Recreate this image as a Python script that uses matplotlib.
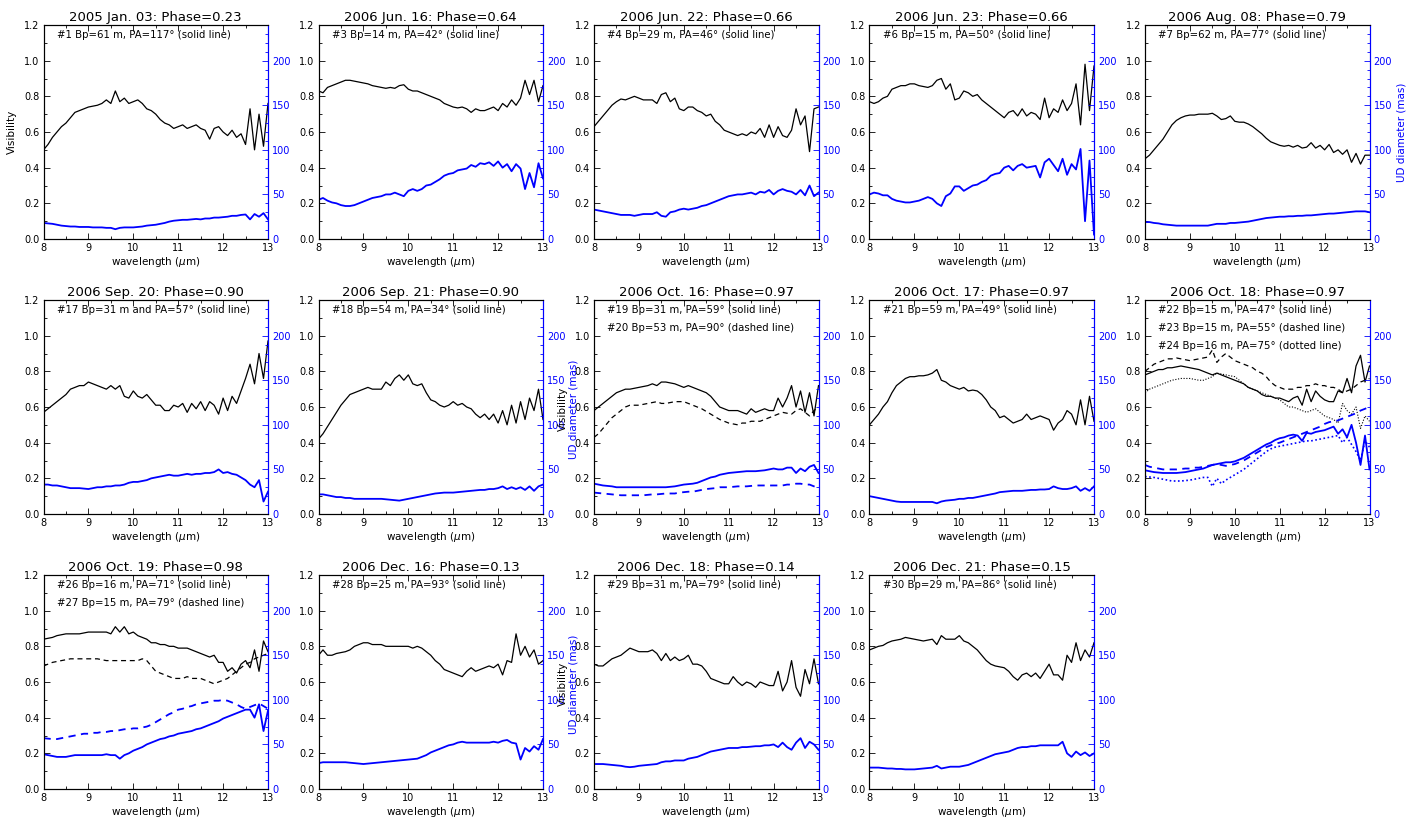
import matplotlib.pyplot as plt
import numpy as np
from matplotlib.ticker import MultipleLocator

plt.rcParams['font.family'] = ['DejaVu Sans']

# wavelength sampling (micron), 8.0 ... 13.0 in 0.1 steps
wl = np.round(np.arange(8.0, 13.05, 0.1), 1)

titles = [
    "2005 Jan. 03: Phase=0.23", "2006 Jun. 16: Phase=0.64", "2006 Jun. 22: Phase=0.66",
    "2006 Jun. 23: Phase=0.66", "2006 Aug. 08: Phase=0.79", "2006 Sep. 20: Phase=0.90",
    "2006 Sep. 21: Phase=0.90", "2006 Oct. 16: Phase=0.97", "2006 Oct. 17: Phase=0.97",
    "2006 Oct. 18: Phase=0.97", "2006 Oct. 19: Phase=0.98", "2006 Dec. 16: Phase=0.13",
    "2006 Dec. 18: Phase=0.14", "2006 Dec. 21: Phase=0.15",
]

notes = [
    ["#1 Bp=61 m, PA=117° (solid line)"],
    ["#3 Bp=14 m, PA=42° (solid line)"],
    ["#4 Bp=29 m, PA=46° (solid line)"],
    ["#6 Bp=15 m, PA=50° (solid line)"],
    ["#7 Bp=62 m, PA=77° (solid line)"],
    ["#17 Bp=31 m and PA=57° (solid line)"],
    ["#18 Bp=54 m, PA=34° (solid line)"],
    ["#19 Bp=31 m, PA=59° (solid line)", "#20 Bp=53 m, PA=90° (dashed line)"],
    ["#21 Bp=59 m, PA=49° (solid line)"],
    ["#22 Bp=15 m, PA=47° (solid line)", "#23 Bp=15 m, PA=55° (dashed line)",
     "#24 Bp=16 m, PA=75° (dotted line)"],
    ["#26 Bp=16 m, PA=71° (solid line)", "#27 Bp=15 m, PA=79° (dashed line)"],
    ["#28 Bp=25 m, PA=93° (solid line)"],
    ["#29 Bp=31 m, PA=79° (solid line)"],
    ["#30 Bp=29 m, PA=86° (solid line)"],
]

# ---- visibility and UD diameter (mas) ----
vis_01 = [0.50,0.53,0.57,0.60,0.63,0.65,0.68,0.71,0.72,0.73,
          0.74,0.745,0.75,0.76,0.78,0.76,0.83,0.77,0.79,0.76,
          0.77,0.78,0.76,0.73,0.72,0.70,0.67,0.65,0.64,0.62,
          0.63,0.64,0.62,0.63,0.64,0.62,0.61,0.56,0.62,0.63,
          0.60,0.58,0.61,0.57,0.59,0.53,0.73,0.50,0.70,0.52,0.76]
ud_01 = [18,17.5,17,16,15,14.5,14,14,13.5,13.5,
         13.5,13,13,13,12.5,12.5,11,12.5,13,13,
         13,13.5,14,15,15.5,16,17,18,19.5,20.5,
         21,21.5,21.5,22,22.5,22,23,23,24,24,
         24.5,25,26,26,27,27.5,22,28,25,29,22]

vis_02 = [0.83,0.82,0.85,0.86,0.87,0.88,0.89,0.89,0.885,0.88,
          0.875,0.87,0.86,0.855,0.85,0.845,0.85,0.845,0.86,0.865,
          0.84,0.83,0.83,0.82,0.81,0.80,0.79,0.78,0.76,0.75,
          0.74,0.735,0.74,0.73,0.71,0.73,0.72,0.72,0.73,0.74,
          0.72,0.76,0.74,0.78,0.75,0.79,0.89,0.81,0.89,0.77,0.86]
ud_02 = [44,46,43,41,40,38,37,37,38,40,
         42,44,46,47,48,50,50,52,50,48,
         54,56,54,56,60,61,64,67,71,73,
         74,77,78,79,83,81,85,84,86,82,
         87,80,84,76,84,79,56,74,58,85,68]

vis_03 = [0.63,0.66,0.69,0.72,0.75,0.77,0.785,0.78,0.79,0.80,
          0.79,0.78,0.78,0.78,0.76,0.81,0.82,0.77,0.79,0.73,
          0.72,0.74,0.74,0.72,0.71,0.69,0.70,0.66,0.64,0.61,
          0.60,0.59,0.58,0.59,0.58,0.60,0.59,0.62,0.57,0.64,
          0.57,0.63,0.58,0.57,0.61,0.73,0.64,0.69,0.49,0.73,0.74]
ud_03 = [33,32,31,30,29,28,27,27,27,26,
         27,28,28,28,30,26,25,30,31,33,
         34,33,34,35,37,38,40,42,44,46,
         48,49,50,50,51,52,50,53,52,55,
         50,54,56,54,53,50,55,49,60,48,52]

vis_04 = [0.77,0.76,0.77,0.79,0.80,0.84,0.85,0.86,0.86,0.87,
          0.87,0.86,0.855,0.85,0.86,0.89,0.90,0.84,0.87,0.78,
          0.79,0.83,0.82,0.80,0.81,0.78,0.76,0.74,0.72,0.70,
          0.68,0.71,0.72,0.69,0.73,0.69,0.71,0.70,0.67,0.79,
          0.68,0.73,0.71,0.78,0.72,0.76,0.87,0.64,0.98,0.72,0.97]
ud_04 = [50,52,51,49,49,45,43,42,41,41,
         42,43,45,47,45,40,37,48,51,59,
         59,54,57,60,61,64,66,71,73,74,
         80,82,77,82,84,80,81,82,69,86,
         90,83,76,90,72,84,78,101,20,88,5]

vis_05 = [0.45,0.47,0.50,0.53,0.56,0.60,0.64,0.665,0.68,0.69,
          0.695,0.695,0.70,0.70,0.70,0.705,0.69,0.67,0.675,0.69,
          0.66,0.655,0.655,0.645,0.63,0.61,0.59,0.565,0.545,0.535,
          0.525,0.52,0.525,0.515,0.525,0.51,0.515,0.54,0.51,0.525,
          0.50,0.53,0.485,0.50,0.475,0.50,0.43,0.48,0.42,0.47,0.47]
ud_05 = [19,19,18,17.5,16.5,16,15.5,15,15,15,
         15,15,15,15,15,16,17,17,17,18,
         18,18.5,19,19.5,20.5,21.5,22.5,23.5,24,24.5,
         25,25,25.5,25.5,26,26,26.5,26.5,27,27.5,
         28,28.5,28.5,29,29.5,30,30.5,31,31,31,30]

vis_06 = [0.57,0.59,0.61,0.63,0.65,0.67,0.70,0.71,0.72,0.72,
          0.74,0.73,0.72,0.71,0.70,0.72,0.70,0.72,0.66,0.65,
          0.69,0.66,0.65,0.67,0.64,0.61,0.61,0.58,0.58,0.61,
          0.60,0.62,0.57,0.62,0.59,0.63,0.58,0.63,0.61,0.56,
          0.65,0.58,0.66,0.62,0.69,0.76,0.84,0.73,0.90,0.76,0.97]
ud_06 = [33,33,32,32,31,30,29,29,29,28.5,
         28,29,30,30,31,31,32,32,33,35,
         36,36,37,38,40,41,42,43,44,43,
         43,44,45,44,45,45,46,46,47,50,
         46,47,45,44,41,38,33,30,38,14,25]

vis_07 = [0.42,0.45,0.49,0.53,0.57,0.61,0.64,0.67,0.68,0.69,
          0.70,0.71,0.70,0.70,0.70,0.74,0.72,0.76,0.78,0.75,
          0.78,0.73,0.72,0.73,0.68,0.64,0.63,0.61,0.60,0.61,
          0.63,0.61,0.62,0.60,0.59,0.56,0.54,0.56,0.53,0.56,
          0.51,0.58,0.50,0.61,0.51,0.63,0.53,0.65,0.58,0.70,0.53]
ud_07 = [22,22,21,20,19,19,18,18,17,17,
         17,17,17,17,17,16.5,16,15.5,15,16,
         17,18,19,20,21,22,23,23.5,24,24,
         24,24.5,25,25.5,26,26.5,27,27,28,28,
         29,31,28,30,28,30,27,31,26,31,33]

vis_08a = [0.58,0.60,0.62,0.64,0.66,0.68,0.69,0.70,0.70,0.705,
           0.71,0.715,0.72,0.73,0.72,0.74,0.74,0.735,0.73,0.72,
           0.71,0.72,0.71,0.70,0.69,0.68,0.66,0.63,0.60,0.59,
           0.58,0.58,0.58,0.57,0.56,0.59,0.57,0.58,0.59,0.58,
           0.58,0.65,0.60,0.65,0.72,0.60,0.69,0.57,0.68,0.55,0.72]
vis_08b = [0.43,0.45,0.48,0.51,0.54,0.56,0.58,0.60,0.61,0.61,
           0.61,0.615,0.62,0.625,0.63,0.62,0.62,0.625,0.63,0.63,
           0.63,0.62,0.61,0.60,0.59,0.575,0.56,0.545,0.53,0.52,
           0.51,0.505,0.50,0.51,0.51,0.52,0.52,0.52,0.53,0.54,
           0.55,0.56,0.57,0.565,0.56,0.58,0.59,0.57,0.55,0.58,0.60]
ud_08a = [34,33,32,31.5,31,30,30,30,30,30,
          30,30,30,30,30,30,30,30.5,31,32,
          33,33.5,34,35,37,39,41,42,44,45,
          46,46.5,47,47.5,48,48,48,48.5,49,50,
          51,50,50,52,52,46,51,48,53,55,46]
ud_08b = [24,23.5,23,22.5,22,21.5,21,21,21,21,
          21,21,21.5,22,22,22.5,23,23,23,24,
          24.5,25,25,26,27,28,28.5,29,30,30,
          30,30.5,31,31,31,31.5,32,32,32,32,
          32,32,32,33,33,34,34,33,33,31,29]

vis_09 = [0.50,0.53,0.56,0.60,0.63,0.68,0.72,0.74,0.76,0.77,
          0.77,0.775,0.775,0.78,0.79,0.81,0.75,0.74,0.72,0.71,
          0.70,0.71,0.69,0.695,0.69,0.67,0.64,0.60,0.58,0.54,
          0.55,0.53,0.51,0.52,0.53,0.56,0.53,0.54,0.55,0.54,
          0.53,0.47,0.51,0.53,0.58,0.56,0.50,0.64,0.50,0.66,0.52]
ud_09 = [20,19,18,17,16,15,14,13.5,13.5,13.5,
         13.5,13.5,13.5,13.5,13.5,12,14,15,15.5,16,
         17,17,18,18,19,20,21,22,23,24.5,
         25,25.5,26,26,26,26.5,27,27,27.5,27.5,
         28,31,29,28,28,29,31,26,29,26,31]

vis_10a = [0.78,0.79,0.80,0.81,0.81,0.82,0.82,0.825,0.83,0.825,
           0.82,0.815,0.81,0.80,0.79,0.78,0.79,0.78,0.77,0.76,
           0.75,0.74,0.73,0.71,0.70,0.69,0.67,0.66,0.66,0.65,
           0.65,0.64,0.63,0.65,0.66,0.61,0.70,0.63,0.69,0.66,
           0.64,0.63,0.63,0.69,0.68,0.76,0.68,0.83,0.89,0.74,0.83]
vis_10b = [0.80,0.82,0.84,0.85,0.86,0.87,0.87,0.875,0.87,0.865,
           0.86,0.865,0.87,0.875,0.88,0.92,0.85,0.88,0.90,0.88,
           0.86,0.85,0.84,0.83,0.82,0.80,0.79,0.77,0.74,0.72,
           0.71,0.70,0.70,0.70,0.71,0.71,0.72,0.72,0.73,0.72,
           0.72,0.71,0.71,0.70,0.68,0.69,0.70,0.72,0.74,0.75,0.76]
vis_10c = [0.68,0.70,0.71,0.72,0.73,0.74,0.75,0.755,0.76,0.76,
           0.76,0.755,0.75,0.75,0.76,0.77,0.79,0.785,0.78,0.775,
           0.77,0.75,0.73,0.71,0.70,0.69,0.68,0.67,0.66,0.65,
           0.64,0.62,0.60,0.60,0.59,0.58,0.57,0.58,0.59,0.57,
           0.55,0.54,0.53,0.51,0.62,0.58,0.56,0.60,0.48,0.55,0.52]
ud_10a = [49,48,47,46.5,46,46,46,46,46.5,47,
          48,49,50,51,53,55,56,57,58,58,
          59,61,63,66,69,72,75,78,80,83,
          85,86,88,89,88,82,91,90,92,93,
          94,96,98,90,95,86,100,80,55,88,50]
ud_10b = [55,53,52,51,50,50,50,50,50.5,51,
          51,52,52,53,54,55,56,55,54,55,
          56,58,60,63,66,69,72,75,77,79,
          80,82,84,86,88,90,92,94,96,98,
          101,103,104,105,107,109,111,113,116,118,120]
ud_10c = [42,41.5,41,40,39,38,37,37,37,37.5,
          38,39,40,41,41,31,40,34,38,41,
          44,47,50,54,58,62,66,70,73,75,
          76,77,78,79,80,81,82,82,83,84,
          85,86,87,88,80,86,78,70,60,82,75]

vis_11a = [0.84,0.845,0.85,0.86,0.865,0.87,0.87,0.87,0.87,0.875,
           0.88,0.88,0.88,0.88,0.88,0.87,0.91,0.88,0.91,0.87,
           0.88,0.86,0.85,0.84,0.82,0.82,0.81,0.81,0.80,0.80,
           0.79,0.79,0.79,0.78,0.77,0.76,0.75,0.74,0.75,0.71,
           0.71,0.66,0.68,0.65,0.70,0.72,0.68,0.78,0.66,0.83,0.77]
vis_11b = [0.69,0.70,0.71,0.715,0.72,0.725,0.73,0.73,0.73,0.73,
           0.73,0.73,0.73,0.725,0.72,0.72,0.72,0.72,0.72,0.72,
           0.72,0.72,0.73,0.72,0.69,0.66,0.65,0.64,0.63,0.62,
           0.62,0.62,0.63,0.62,0.62,0.62,0.61,0.60,0.59,0.60,
           0.61,0.62,0.64,0.66,0.68,0.70,0.71,0.73,0.74,0.75,0.76]
ud_11a = [39,38,37,36,36,36,37,38,38,38,
          38,38,38,38,39,38,38,34,38,40,
          43,45,47,50,52,54,56,57,59,60,
          62,63,64,65,67,68,70,72,74,76,
          79,81,83,85,87,89,89,80,95,65,88]
ud_11b = [57,56.5,56,56,57,58,59,60,61,62,
          62,63,63,64,64,65,65,66,67,67,
          68,68,69,70,72,75,78,81,84,86,
          89,90,92,93,95,96,97,98,99,99,
          100,99,97,95,92,90,92,94,96,93,90]

vis_12 = [0.75,0.78,0.75,0.75,0.76,0.765,0.77,0.78,0.80,0.81,
          0.82,0.82,0.81,0.81,0.81,0.80,0.80,0.80,0.80,0.80,
          0.80,0.79,0.80,0.79,0.77,0.75,0.72,0.70,0.67,0.66,
          0.65,0.64,0.63,0.66,0.68,0.66,0.67,0.68,0.69,0.68,
          0.70,0.64,0.72,0.71,0.87,0.75,0.80,0.74,0.78,0.70,0.72]
ud_12 = [29,30,30,30,30,30,30,29.5,29,28.5,
         28,28.5,29,29.5,30,30.5,31,31.5,32,32.5,
         33,33.5,34,36,38,41,43,45,47,49,
         50,52,53,52,52,52,52,52,52,53,
         52,54,55,52,51,33,46,42,48,44,56]

vis_13 = [0.70,0.69,0.69,0.71,0.73,0.74,0.75,0.77,0.79,0.78,
          0.77,0.77,0.77,0.78,0.76,0.72,0.76,0.72,0.74,0.72,
          0.73,0.75,0.70,0.70,0.69,0.66,0.62,0.61,0.60,0.59,
          0.59,0.63,0.60,0.58,0.60,0.59,0.57,0.60,0.59,0.58,
          0.58,0.66,0.55,0.60,0.72,0.57,0.52,0.67,0.59,0.73,0.59]
ud_13 = [28,28,28,27.5,27,26.5,26,25,24.5,25,
         26,26.5,27,27.5,28,30,31,31,32,32,
         32,34,35,36,38,40,42,43,44,45,
         46,46,46,47,47,47.5,48,48,49,49,
         50,47,52,47,44,52,57,46,53,50,44]

vis_14 = [0.78,0.79,0.80,0.805,0.82,0.83,0.835,0.84,0.85,0.845,
          0.84,0.835,0.83,0.835,0.84,0.81,0.86,0.84,0.84,0.84,
          0.86,0.83,0.82,0.80,0.78,0.75,0.72,0.70,0.69,0.685,
          0.68,0.66,0.63,0.61,0.64,0.65,0.63,0.65,0.62,0.66,
          0.70,0.64,0.64,0.61,0.75,0.71,0.82,0.72,0.78,0.74,0.82]
ud_14 = [24,24,24,23.5,23,23,22.5,22.5,22,22,
         22,22.5,23,23.5,24,26,23,24,25,25,
         25,26,27,29,31,33,35,37,39,40,
         41,42,44,46,47,47,48,48,49,49,
         49,49,49,53,40,36,42,38,41,37,40]

solid = '-'
dashed = (0, (4, 3))
dotted = (0, (1, 1.5))

# per panel: list of (visibility, UD diameter, linestyle)
curves = [
    [(vis_01, ud_01, solid)],
    [(vis_02, ud_02, solid)],
    [(vis_03, ud_03, solid)],
    [(vis_04, ud_04, solid)],
    [(vis_05, ud_05, solid)],
    [(vis_06, ud_06, solid)],
    [(vis_07, ud_07, solid)],
    [(vis_08a, ud_08a, solid), (vis_08b, ud_08b, dashed)],
    [(vis_09, ud_09, solid)],
    [(vis_10a, ud_10a, solid), (vis_10b, ud_10b, dashed), (vis_10c, ud_10c, dotted)],
    [(vis_11a, ud_11a, solid), (vis_11b, ud_11b, dashed)],
    [(vis_12, ud_12, solid)],
    [(vis_13, ud_13, solid)],
    [(vis_14, ud_14, solid)],
]

BLUE = '#0000ff'
W, H = 1417, 823
lefts = [43.5, 318.5, 594, 869.5, 1145]
tops = [25, 300, 575]
aw, ah = 224.5, 214

fig = plt.figure(figsize=(W / 100, H / 100), dpi=100)

for i in range(14):
    r, c = divmod(i, 5)
    ax = fig.add_axes([lefts[c] / W, 1 - (tops[r] + ah) / H, aw / W, ah / H])
    ax2 = ax.twinx()

    for v, d, ls in curves[i]:
        lw = 0.8 if ls == dotted else 0.9
        ax.plot(wl, v, color='k', lw=lw, ls=ls)
        ax2.plot(wl, d, color=BLUE, lw=lw + 0.4, ls=ls)

    ax.set_xlim(8, 13)
    ax.set_ylim(0, 1.2)
    ax2.set_ylim(0, 240)
    ax.xaxis.set_major_locator(MultipleLocator(1))
    ax.xaxis.set_minor_locator(MultipleLocator(0.5))
    ax.yaxis.set_major_locator(MultipleLocator(0.2))
    ax.yaxis.set_minor_locator(MultipleLocator(0.1))
    ax.yaxis.set_major_formatter(plt.FormatStrFormatter('%.1f'))
    ax2.yaxis.set_major_locator(MultipleLocator(50))
    ax2.yaxis.set_minor_locator(MultipleLocator(10))

    ax.tick_params(which='both', direction='in', top=True, right=False,
                   labelsize=7, width=0.6, pad=3)
    ax.tick_params(which='major', length=4)
    ax.tick_params(which='minor', length=2)
    ax2.tick_params(which='both', direction='in', colors=BLUE, labelsize=7,
                    width=0.6, pad=3)
    ax2.tick_params(which='major', length=4)
    ax2.tick_params(which='minor', length=2)
    for sp in ax.spines.values():
        sp.set_linewidth(0.8)
    for sp in ax2.spines.values():
        sp.set_linewidth(0.8)
    ax.spines['right'].set_color(BLUE)
    ax2.spines['right'].set_color(BLUE)

    ax.set_title(titles[i], fontsize=9.5, pad=3)
    ax.set_xlabel('wavelength ($\\mu$m)', fontsize=7.5, labelpad=1)

    for k, line in enumerate(notes[i]):
        ax.text(0.058, 0.955 - 0.086 * k, line, transform=ax.transAxes,
                fontsize=7.3, ha='left', va='center')

# axis titles where the original figure placed them
fig.text(12 / W, 1 - 132 / H, 'Visibility', rotation=90, ha='center', va='center', fontsize=7.5)
fig.text(1401 / W, 1 - 132 / H, 'UD diameter (mas)', rotation=90, ha='center', va='center',
         fontsize=7.5, color=BLUE)
for yc in (409, 684):
    fig.text(563 / W, 1 - yc / H, 'Visibility', rotation=90, ha='center', va='center', fontsize=7.5)
    fig.text(574 / W, 1 - yc / H, 'UD diameter (mas)', rotation=90, ha='center', va='center',
             fontsize=7.5, color=BLUE)

fig.savefig('out.png', dpi=100)
